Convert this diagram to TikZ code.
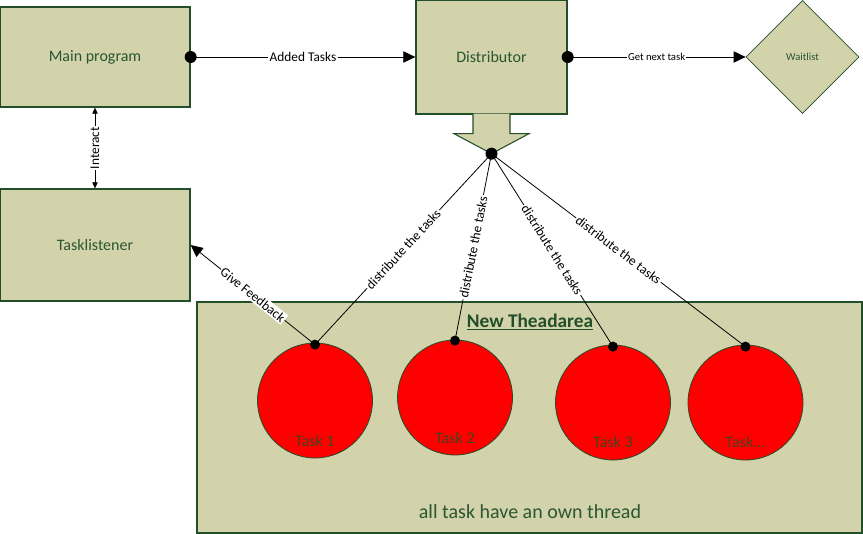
\documentclass[tikz,border=0pt]{standalone}
\usepackage{fontspec}
\setmainfont{Carlito}
\usetikzlibrary{shapes,arrows.meta,positioning,calc}

\definecolor{olivefill}{RGB}{210,211,171}
\definecolor{boxline}{RGB}{34,78,42}
\definecolor{boxtext}{RGB}{42,86,48}
\definecolor{tasktext}{RGB}{70,66,30}

\begin{document}
\begin{tikzpicture}[x=0.75pt,y=-0.75pt]
% Styles

   \tikzstyle{box} = [draw=boxline, fill=olivefill, line width=1pt, text=boxtext, inner sep=0pt, font=\fontsize{12}{14}\selectfont]
   \tikzstyle{taskcirc} = [draw=boxline, fill=red, shape=circle, minimum size=86.25pt, inner sep=0pt, line width=0.6pt]
   \tikzstyle{tasklbl} = [text=tasktext, font=\fontsize{12}{14}\selectfont]
   \tikzstyle{dot} = [shape=circle, fill=black, inner sep=0pt, minimum size=9pt]
   \tikzstyle{smalldot} = [shape=circle, fill=black, inner sep=0pt, minimum size=7.5pt]
   \tikzstyle{conn} = [draw=black, line width=0.6pt]
   \tikzstyle{lbl} = [fill=white, inner sep=1pt, midway, sloped, font=\fontsize{10}{12}\selectfont]
   \tikzstyle{bigtip} = [-{Triangle[length=9pt,width=8.5pt]}]

\useasboundingbox (0,0) rectangle (863,534);

% Boxes
\node[box, minimum width=142.5pt, minimum height=75pt] (mp) at (95,57) {Main program};
\node[box, minimum width=113.25pt, minimum height=85.5pt] (dist) at (491.5,57) {Distributor};
\node[box, shape=diamond, minimum width=84.75pt, minimum height=84.75pt, line width=0.6pt, font=\fontsize{8}{10}\selectfont] (wait) at (802.5,57) {Waitlist};
\node[box, minimum width=142.5pt, minimum height=84pt] (tl) at (95,245) {Tasklistener};

% arrow below the distributor
\filldraw[draw=boxline, fill=olivefill, line width=0.8pt] ($(dist.south)+(-18.5,-1)$) -- ++(0,20) -- ++(-19,0) -- ($(dist.south)+(0,39)$) -- ($(dist.south)+(37.5,19)$) -- ++(-19,0) -- ++(0,-20);

% Thread area
\node[box, minimum width=498.75pt, minimum height=173.25pt] (area) at (529.5,417.5) {};
\node[text=boxline, font=\fontsize{14.5}{17}\selectfont\bfseries] (areatitle) at (530,322) {\underline{New Theadarea}};
\node[text=boxtext, font=\fontsize{15}{18}\selectfont] (areanote) at (530,512) {all task have an own thread};

\node[taskcirc] (t1) at (315,400.5) {};
\node[taskcirc] (t2) at (455,397.5) {};
\node[taskcirc] (t3) at (613,402.5) {};
\node[taskcirc] (t4) at (745.5,402.5) {};
\node[tasklbl] (t1lbl) at (315,441) {Task 1};
\node[tasklbl] (t2lbl) at (455,438) {Task 2};
\node[tasklbl] (t3lbl) at (613,442) {Task 3};
\node[tasklbl] (t4lbl) at (745.5,442) {Task...};

% Dots
\node[dot] (mpdot) at (mp.east) {};
\node[dot] (distdot) at (dist.east) {};
\node[dot] (tipdot) at ($(dist.south)+(0,39)$) {};
\node[smalldot] (d1) at ($(t1.north)+(0,2)$) {};
\node[smalldot] (d2) at ($(t2.north)+(0,1)$) {};
\node[smalldot] (d3) at ($(t3.north)+(0,2)$) {};
\node[smalldot] (d4) at ($(t4.north)+(0,2)$) {};

% Connectors
\draw[conn,bigtip] (mpdot.center) -- node[lbl]{Added Tasks} (dist.west);
\draw[conn,bigtip] (distdot.center) -- node[lbl, font=\fontsize{8}{10}\selectfont]{Get next task} (wait.west);
\draw[conn,{Triangle[length=4.5pt,width=4pt]}-{Triangle[length=4.5pt,width=4pt]}] (tl.north) -- node[lbl]{Interact} (mp.south);
\draw[conn,bigtip] (d1.center) -- node[lbl]{Give Feedback} (tl.east);

\foreach \d in {d1,d2,d3,d4}
    \draw[conn] (tipdot.center) -- node[lbl]{distribute the tasks} (\d.center);
\end{tikzpicture}
\end{document}
